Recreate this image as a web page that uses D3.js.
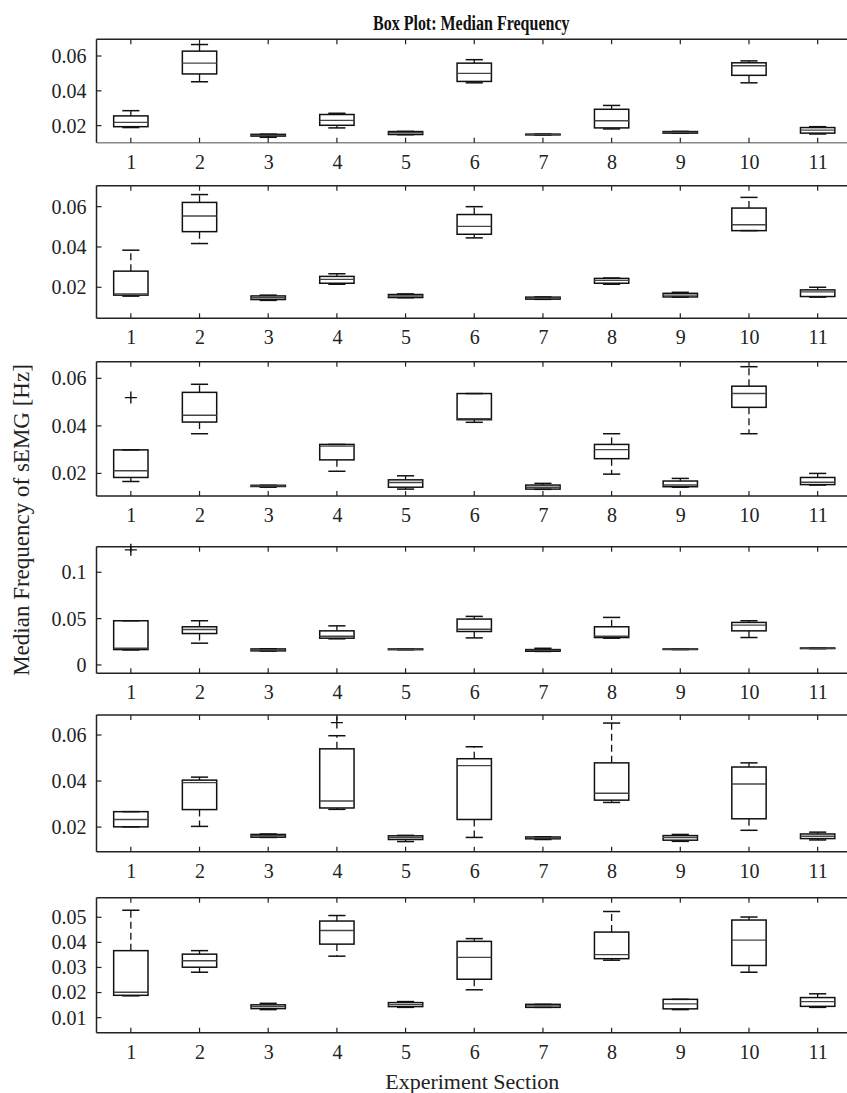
<!DOCTYPE html>
<html><head><meta charset="utf-8">
<script src="https://cdn.jsdelivr.net/npm/d3@7/dist/d3.min.js"></script>
<style>
body{margin:0;background:#fff}
svg{display:block}
</style>
</head><body>
<svg id="chart" width="847" height="1093"></svg>
<script>
// ---- data: each entry is [lowerWhisker, Q1, median, Q3, upperWhisker] ----
const categories = [1,2,3,4,5,6,7,8,9,10,11];

const panel1Stats = [
  [0.0189,0.0194,0.0219,0.0256,0.0286],
  [0.0452,0.0497,0.0559,0.0628,0.0666],
  [0.0133,0.0140,0.0144,0.0150,0.0151],
  [0.0187,0.0202,0.0230,0.0264,0.0271],
  [0.0148,0.0149,0.0159,0.0166,0.0167],
  [0.0446,0.0454,0.0500,0.0559,0.0579],
  [0.0146,0.0147,0.0149,0.0151,0.0152],
  [0.0181,0.0187,0.0228,0.0294,0.0316],
  [0.0156,0.0157,0.0161,0.0166,0.0167],
  [0.0446,0.0489,0.0544,0.0561,0.0572],
  [0.0152,0.0157,0.0174,0.0189,0.0194]
];
const panel2Stats = [
  [0.0156,0.0161,0.0167,0.0280,0.0384],
  [0.0417,0.0476,0.0554,0.0621,0.0660],
  [0.0135,0.0139,0.0148,0.0157,0.0161],
  [0.0215,0.0220,0.0239,0.0254,0.0267],
  [0.0148,0.0149,0.0157,0.0164,0.0167],
  [0.0445,0.0463,0.0502,0.0561,0.0600],
  [0.0140,0.0141,0.0146,0.0151,0.0152],
  [0.0215,0.0220,0.0234,0.0244,0.0246],
  [0.0151,0.0152,0.0161,0.0170,0.0175],
  [0.0481,0.0481,0.0510,0.0593,0.0646],
  [0.0151,0.0154,0.0177,0.0187,0.0200]
];
const panel3Stats = [
  [0.0166,0.0183,0.0211,0.0299,0.0299],
  [0.0367,0.0416,0.0445,0.0541,0.0575],
  [0.0142,0.0145,0.0147,0.0150,0.0150],
  [0.0209,0.0257,0.0315,0.0322,0.0322],
  [0.0134,0.0142,0.0162,0.0173,0.0190],
  [0.0415,0.0426,0.0430,0.0536,0.0536],
  [0.0133,0.0134,0.0142,0.0151,0.0158],
  [0.0197,0.0262,0.0300,0.0322,0.0367],
  [0.0142,0.0144,0.0151,0.0168,0.0179],
  [0.0367,0.0478,0.0536,0.0567,0.0649],
  [0.0151,0.0153,0.0163,0.0183,0.0200]
];
const panel4Stats = [
  [0.0162,0.0166,0.0181,0.0477,0.0477],
  [0.0235,0.0339,0.0383,0.0412,0.0477],
  [0.0150,0.0152,0.0162,0.0173,0.0175],
  [0.0282,0.0289,0.0310,0.0368,0.0422],
  [0.0164,0.0165,0.0170,0.0173,0.0174],
  [0.0292,0.0361,0.0386,0.0495,0.0524],
  [0.0146,0.0148,0.0157,0.0166,0.0180],
  [0.0289,0.0296,0.0310,0.0412,0.0513],
  [0.0166,0.0167,0.0170,0.0173,0.0174],
  [0.0296,0.0368,0.0430,0.0459,0.0477],
  [0.0176,0.0177,0.0180,0.0183,0.0184]
];
const panel5Stats = [
  [0.0201,0.0201,0.0233,0.0267,0.0267],
  [0.0203,0.0276,0.0393,0.0404,0.0417],
  [0.0155,0.0156,0.0162,0.0168,0.0170],
  [0.0277,0.0283,0.0313,0.0540,0.0597],
  [0.0137,0.0146,0.0155,0.0162,0.0164],
  [0.0155,0.0233,0.0467,0.0497,0.0549],
  [0.0146,0.0149,0.0153,0.0157,0.0158],
  [0.0307,0.0317,0.0347,0.0479,0.0652],
  [0.0138,0.0143,0.0155,0.0163,0.0168],
  [0.0186,0.0236,0.0387,0.0461,0.0479],
  [0.0144,0.0150,0.0160,0.0170,0.0178]
];
const panel6Stats = [
  [0.0187,0.0189,0.0201,0.0367,0.0528],
  [0.0281,0.0301,0.0327,0.0353,0.0367],
  [0.0132,0.0136,0.0144,0.0151,0.0157],
  [0.0345,0.0393,0.0447,0.0485,0.0507],
  [0.0141,0.0144,0.0152,0.0160,0.0164],
  [0.0211,0.0253,0.0340,0.0404,0.0415],
  [0.0141,0.0141,0.0147,0.0153,0.0153],
  [0.0329,0.0335,0.0351,0.0441,0.0523],
  [0.0132,0.0135,0.0155,0.0173,0.0173],
  [0.0281,0.0308,0.0409,0.0489,0.0501],
  [0.0141,0.0145,0.0164,0.0180,0.0195]
];

// outliers: [category, value]
const panel1Outliers = [];
const panel2Outliers = [];
const panel3Outliers = [[1,0.0519]];
const panel4Outliers = [[1,0.1242]];
const panel5Outliers = [[4,0.0654]];
const panel6Outliers = [];

// y axis ticks and limits
const ticksA = [0.02,0.04,0.06];
const ticks4 = [0,0.05,0.1];
const ticks6 = [0.01,0.02,0.03,0.04,0.05];
const limits1 = [0.0102,0.0696];
const limits2 = [0.0046,0.0704];
const limits3 = [0.0105,0.0670];
const limits4 = [-0.009,0.1276];
const limits5 = [0.0093,0.0687];
const limits6 = [0.0040,0.0578];

const titleText = "Box Plot: Median Frequency";
const xLabel = "Experiment Section";
const yLabel = "Median Frequency of sEMG [Hz]";

// ---- layout ----
const FONT = '"Liberation Serif", "Times New Roman", Times, serif';
const panels = [
  {stats:panel1Stats, out:panel1Outliers, ticks:ticksA, lim:limits1, top:39.3, bottom:142.7, axisColor:"#888"},
  {stats:panel2Stats, out:panel2Outliers, ticks:ticksA, lim:limits2, top:185.7, bottom:318.3, axisColor:"#222"},
  {stats:panel3Stats, out:panel3Outliers, ticks:ticksA, lim:limits3, top:361.7, bottom:496, axisColor:"#222"},
  {stats:panel4Stats, out:panel4Outliers, ticks:ticks4, lim:limits4, top:546.7, bottom:673.3, axisColor:"#222"},
  {stats:panel5Stats, out:panel5Outliers, ticks:ticksA, lim:limits5, top:715, bottom:851.7, axisColor:"#222"},
  {stats:panel6Stats, out:panel6Outliers, ticks:ticks6, lim:limits6, top:897.7, bottom:1032.7, axisColor:"#222"}
];

const svg = d3.select("#chart");
const left = 96.5, right = 852;
const x = d3.scaleLinear().domain([0.5, 11.5]).range([left, right]);
const tickLen = 5;

panels.forEach(p => {
  const y = d3.scaleLinear().domain(p.lim).range([p.bottom, p.top]);
  const g = svg.append("g");

  // borders
  g.append("line").attr("x1",left).attr("x2",right).attr("y1",p.top).attr("y2",p.top)
    .attr("stroke","#222").attr("stroke-width",1.5);
  g.append("line").attr("x1",left).attr("x2",right).attr("y1",p.bottom).attr("y2",p.bottom)
    .attr("stroke",p.axisColor).attr("stroke-width",1.5);
  g.append("line").attr("x1",left).attr("x2",left).attr("y1",p.top).attr("y2",p.bottom)
    .attr("stroke","#222").attr("stroke-width",1.5);
  g.append("line").attr("x1",right).attr("x2",right).attr("y1",p.top).attr("y2",p.bottom)
    .attr("stroke","#222").attr("stroke-width",1.5);

  // bottom axis labels via d3 axis
  const xa = d3.axisBottom(x).tickValues(categories).tickFormat(d3.format("d"))
    .tickSize(0).tickPadding(12);
  const xg = g.append("g").attr("transform",`translate(0,${p.bottom})`).call(xa);
  xg.select(".domain").remove();
  xg.selectAll("text").style("font-size","20px").style("font-family",FONT).style("fill","#222");

  // inward ticks (top and bottom)
  categories.forEach(c => {
    g.append("line").attr("x1",x(c)).attr("x2",x(c)).attr("y1",p.bottom).attr("y2",p.bottom - tickLen)
      .attr("stroke","#222").attr("stroke-width",1.2);
    g.append("line").attr("x1",x(c)).attr("x2",x(c)).attr("y1",p.top).attr("y2",p.top + tickLen)
      .attr("stroke","#222").attr("stroke-width",1.2);
  });

  // y axis
  const ya = d3.axisLeft(y).tickValues(p.ticks).tickFormat(v => String(v)).tickSize(0).tickPadding(10);
  const yg = g.append("g").attr("transform",`translate(${left},0)`).call(ya);
  yg.select(".domain").remove();
  yg.selectAll("text").style("font-size","20px").style("font-family",FONT).style("fill","#222");
  p.ticks.forEach(t => {
    g.append("line").attr("x1",left).attr("x2",left + tickLen).attr("y1",y(t)).attr("y2",y(t))
      .attr("stroke","#222").attr("stroke-width",1.2);
    g.append("line").attr("x1",right).attr("x2",right - tickLen).attr("y1",y(t)).attr("y2",y(t))
      .attr("stroke","#222").attr("stroke-width",1.2);
  });

  // boxes
  p.stats.forEach((s, i) => {
    const c = categories[i];
    const [lo, q1, med, q3, hi] = s;
    const bx0 = x(c - 0.25), bx1 = x(c + 0.25);
    const cx0 = x(c - 0.125), cx1 = x(c + 0.125);
    if (hi > q3) g.append("line").attr("x1",x(c)).attr("x2",x(c)).attr("y1",y(q3)).attr("y2",y(hi))
      .attr("stroke","#111").attr("stroke-width",1.3).attr("stroke-dasharray","7,4");
    if (lo < q1) g.append("line").attr("x1",x(c)).attr("x2",x(c)).attr("y1",y(q1)).attr("y2",y(lo))
      .attr("stroke","#111").attr("stroke-width",1.3).attr("stroke-dasharray","7,4");
    g.append("line").attr("x1",cx0).attr("x2",cx1).attr("y1",y(hi)).attr("y2",y(hi))
      .attr("stroke","#111").attr("stroke-width",1.5);
    g.append("line").attr("x1",cx0).attr("x2",cx1).attr("y1",y(lo)).attr("y2",y(lo))
      .attr("stroke","#111").attr("stroke-width",1.5);
    g.append("rect").attr("x",bx0).attr("y",y(q3)).attr("width",bx1 - bx0)
      .attr("height",Math.max(0.5, y(q1) - y(q3)))
      .attr("fill","none").attr("stroke","#111").attr("stroke-width",1.5);
    g.append("line").attr("x1",bx0).attr("x2",bx1).attr("y1",y(med)).attr("y2",y(med))
      .attr("stroke","#444").attr("stroke-width",1.4);
  });

  // outliers
  p.out.forEach(([c, v]) => {
    const px = x(c), py = y(v);
    g.append("path").attr("d",`M${px-6},${py}H${px+6}M${px},${py-6}V${py+6}`)
      .attr("stroke","#111").attr("stroke-width",1.4).attr("fill","none");
  });
});

// titles
svg.append("text").attr("transform",`translate(${(left+right)/2 - 3},30) scale(1,1.3)`)
  .attr("text-anchor","middle")
  .style("font-family",FONT).style("font-size","16px").style("font-weight","bold").style("fill","#111")
  .text(titleText);
svg.append("text").attr("x",(left+right)/2 - 2).attr("y",1089).attr("text-anchor","middle")
  .style("font-family",FONT).style("font-size","22px").style("fill","#222").text(xLabel);
svg.append("text").attr("transform","translate(29,520) rotate(-90)").attr("text-anchor","middle")
  .style("font-family",FONT).style("font-size","23px").style("fill","#222").text(yLabel);
</script>
</body></html>
